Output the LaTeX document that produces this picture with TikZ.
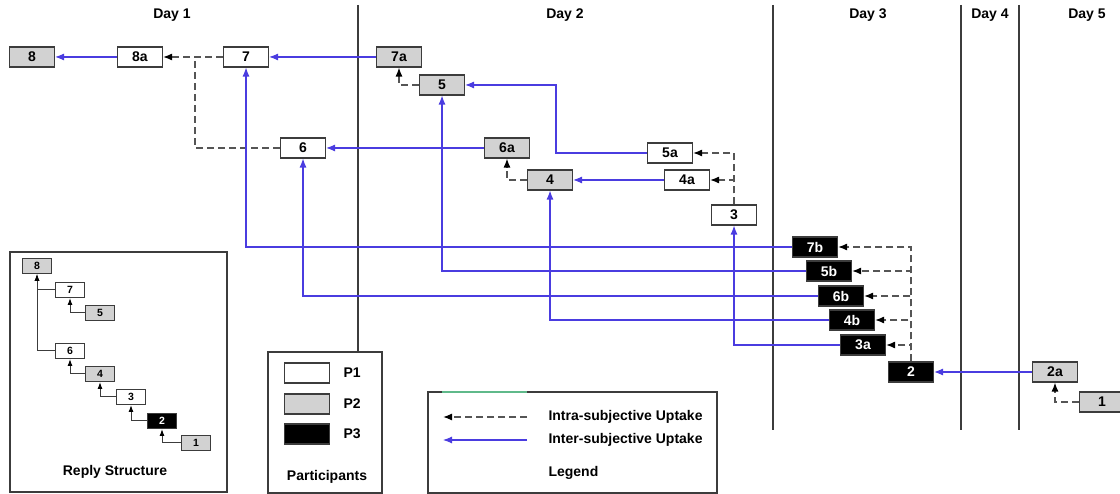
\documentclass[tikz,border=0pt]{standalone}
\usepackage{fontspec}
\setmainfont{Liberation Sans}
\usetikzlibrary{arrows.meta}
\definecolor{uptakeBlue}{HTML}{4A3CE0}
\definecolor{boxGray}{HTML}{D2D2D2}
\definecolor{edgeGray}{HTML}{3C3C3C}
\definecolor{dashGray}{HTML}{555555}
\definecolor{legendGreen}{HTML}{5FB98A}

\begin{document}
\begin{tikzpicture}[x=1pt, y=-1pt, >={Latex[length=9pt,width=7pt]},
    font=\bfseries\fontsize{14}{16}\selectfont,
    post/.style={draw=edgeGray, line width=1.1pt, fill=white, minimum width=45pt, minimum height=20pt, inner sep=0pt},
    pOne/.style={post},
    pTwo/.style={post, fill=boxGray},
    pThree/.style={post, fill=black, text=white},
    mini/.style={post, minimum width=29pt, minimum height=15pt, line width=1pt, font=\bfseries\fontsize{10.5}{12}\selectfont},
    frame/.style={draw=edgeGray, line width=1.2pt, fill=white},
    caption/.style={font=\bfseries\fontsize{14}{16}\selectfont},
    intra/.style={-{Latex[length=9pt,width=7pt,color=black]}, dashGray, line width=1.3pt, dash pattern=on 7pt off 4pt},
    intraline/.style={dashGray, line width=1.3pt, dash pattern=on 7pt off 4pt},
    inter/.style={->, uptakeBlue, line width=1.1pt},
    reply/.style={-{Latex[length=7pt,width=5pt,color=black]}, edgeGray, line width=1pt}]
    \useasboundingbox (0,0) rectangle (1120,494);

    % Days
    \draw[edgeGray, line width=1.4pt] (358,5) -- (358,352);
    \draw[edgeGray, line width=1.4pt] (773,5) -- (773,430);
    \draw[edgeGray, line width=1.4pt] (961,5) -- (961,430);
    \draw[edgeGray, line width=1.4pt] (1019,5) -- (1019,430);
    \node[caption] (day1) at (172,15) {Day 1};
    \node[caption] (day2) at (565,15) {Day 2};
    \node[caption] (day3) at (868,15) {Day 3};
    \node[caption] (day4) at (990,15) {Day 4};
    \node[caption] (day5) at (1087,15) {Day 5};

    % Posts
    \node[pTwo] (n8) at (32,57) {8};
    \node[pOne] (n8a) at (140,57) {8a};
    \node[pOne] (n7) at (246,57) {7};
    \node[pTwo] (n7a) at (399,57) {7a};
    \node[pTwo] (n5) at (442,85) {5};
    \node[pOne] (n6) at (303,148) {6};
    \node[pTwo] (n6a) at (507,148) {6a};
    \node[pTwo] (n4) at (550,180) {4};
    \node[pOne] (n5a) at (670,153) {5a};
    \node[pOne] (n4a) at (687,180) {4a};
    \node[pOne] (n3) at (734,215) {3};
    \node[pThree] (n7b) at (815,247) {7b};
    \node[pThree] (n5b) at (829,271) {5b};
    \node[pThree] (n6b) at (841,296) {6b};
    \node[pThree] (n4b) at (852,320) {4b};
    \node[pThree] (n3a) at (863,345) {3a};
    \node[pThree] (n2) at (911,372) {2};
    \node[pTwo] (n2a) at (1055,372) {2a};
    \node[pTwo] (n1) at (1102,402) {1};
    \coordinate (j8a) at (195,57);
    \coordinate (k5) at (556,153);

    % Intra-subjective
    \draw[intra] (n7) -- (n8a);
    \draw[intraline] (n6.west) -| (j8a);
    \draw[intra] (n5.west) -| (n7a.south);
    \draw[intra] (n4.west) -| (n6a.south);
    \draw[intra] (n3.north) |- (n5a.east);
    \draw[intra] (n3.north) |- (n4a.east);
    \draw[intra] (n2.north) |- (n7b.east);
    \draw[intra] (n2.north) |- (n5b.east);
    \draw[intra] (n2.north) |- (n6b.east);
    \draw[intra] (n2.north) |- (n4b.east);
    \draw[intra] (n2.north) |- (n3a.east);
    \draw[intra] (n1.west) -| (n2a.south);

    % Inter-subjective
    \draw[inter] (n8a) -- (n8);
    \draw[inter] (n7a) -- (n7);
    \draw[inter] (n6a) -- (n6);
    \draw[inter] (n4a) -- (n4);
    \draw[inter] (n5a.west) -- (k5) |- (n5.east);
    \draw[inter] (n7b.west) -| (n7.south);
    \draw[inter] (n5b.west) -| (n5.south);
    \draw[inter] (n6b.west) -| (n6.south);
    \draw[inter] (n4b.west) -| (n4.south);
    \draw[inter] (n3a.west) -| (n3.south);
    \draw[inter] (n2a) -- (n2);

    % Reply structure
    \node[frame, minimum width=217pt, minimum height=240pt] (replybox) at (118.5,372) {};
    \node[mini, fill=boxGray] (r8) at (37,266) {8};
    \node[mini] (r7) at (70,290) {7};
    \node[mini, fill=boxGray] (r5) at (100,313) {5};
    \node[mini] (r6) at (70,351) {6};
    \node[mini, fill=boxGray] (r4) at (100,374) {4};
    \node[mini] (r3) at (131,397) {3};
    \node[mini, fill=black, text=white] (r2) at (162,421) {2};
    \node[mini, fill=boxGray] (r1) at (196,443) {1};
    \draw[reply] (r7.west) -| (r8.south);
    \draw[reply] (r6.west) -| (r8.south);
    \draw[reply] (r5.west) -| (r7.south);
    \draw[reply] (r4.west) -| (r6.south);
    \draw[reply] (r3.west) -| (r4.south);
    \draw[reply] (r2.west) -| (r3.south);
    \draw[reply] (r1.west) -| (r2.south);
    \node[caption] (replylabel) at (115,472) {Reply Structure};

    % Participants
    \node[frame, minimum width=114pt, minimum height=141pt] (partbox) at (325,422.5) {};
    \node[pOne] (keyOne) at (307,373) {};
    \node[pTwo] (keyTwo) at (307,404) {};
    \node[pThree] (keyThree) at (307,434) {};
    \node[caption, anchor=west] (labOne) at (340,373) {P1};
    \node[caption, anchor=west] (labTwo) at (340,404) {P2};
    \node[caption, anchor=west] (labThree) at (340,434) {P3};
    \node[caption] (partlabel) at (327,477) {Participants};

    % Legend
    \node[frame, minimum width=289pt, minimum height=101pt] (legendbox) at (572.5,442.5) {};
    \draw[legendGreen, line width=1.2pt] (442,392) -- (527,392);
    \coordinate (intraStart) at (527,417);
    \coordinate (intraEnd) at (443,417);
    \coordinate (interStart) at (527,440);
    \coordinate (interEnd) at (443,440);
    \draw[intra] (intraStart) -- (intraEnd);
    \draw[inter] (interStart) -- (interEnd);
    \node[caption, anchor=west] (intraText) at (545,417) {Intra-subjective Uptake};
    \node[caption, anchor=west] (interText) at (545,440) {Inter-subjective Uptake};
    \node[caption, anchor=west] (legendText) at (545,473) {Legend};
\end{tikzpicture}
\end{document}
